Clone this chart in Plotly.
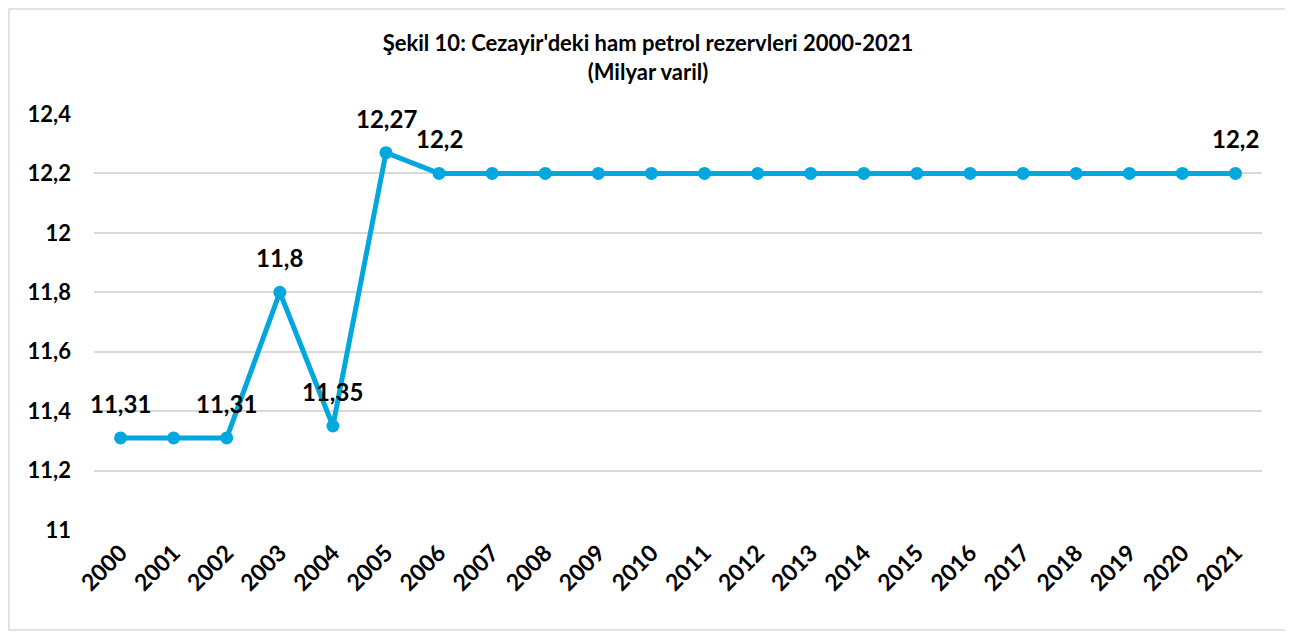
import plotly.graph_objects as go

years = [str(y) for y in range(2000, 2022)]
values = [11.31, 11.31, 11.31, 11.8, 11.35, 12.27] + [12.2] * 16
labels = ["11,31", "", "11,31", "11,8", "11,35", "12,27", "12,2"] + [""] * 14 + ["12,2"]
y_ticks = [11, 11.2, 11.4, 11.6, 11.8, 12, 12.2, 12.4]
y_ticktext = ["11", "11,2", "11,4", "11,6", "11,8", "12", "12,2", "12,4"]

FONT = "Lato"
OFF = 8  # page body margin
W, H = 1293 - OFF, 635 - OFF
L, T = 94 - OFF, 114 - OFF
R = W - (1262 - OFF)
B = H - (530 - OFF)
pw = W - L - R
ph = H - T - B

fig = go.Figure()
fig.add_trace(go.Scatter(
    x=years, y=values, mode="lines+markers",
    line=dict(color="#02A7DE", width=5),
    marker=dict(color="#02A7DE", size=13),
    cliponaxis=False, showlegend=False, hoverinfo="x+y",
))

for i, (yv, lab) in enumerate(zip(values, labels)):
    if lab:
        fig.add_annotation(
            x=i, y=yv, text=lab, showarrow=False,
            yanchor="bottom", yshift=18,
            font=dict(family=FONT, size=24, color="#000000", weight="bold"),
        )

def fx(p):
    return (p - OFF - L) / pw

def fy(p):
    return (H - B - (p - OFF)) / ph

fig.add_shape(type="rect", xref="paper", yref="paper",
              x0=fx(OFF + 1), x1=fx(1289),
              y0=fy(630), y1=fy(OFF + 1),
              line=dict(color="#D9D9D9", width=1.5), layer="below")

fig.update_layout(
    width=W, height=H,
    margin=dict(l=L, r=R, t=T, b=B, autoexpand=False),
    paper_bgcolor="white", plot_bgcolor="white",
    title=dict(
        text="Şekil 10: Cezayir'deki ham petrol rezervleri 2000-2021<br>(Milyar varil)",
        x=(648 - OFF) / W, xref="container", xanchor="center",
        y=1 - (51 - OFF) / H, yref="container", yanchor="top",
        font=dict(family=FONT, size=22, color="#000000", weight="bold"),
    ),
    xaxis=dict(
        type="category", range=[-0.5, 21.5], automargin=False,
        showgrid=False, showline=False, zeroline=False, ticks="",
        tickangle=-45, ticklabelstandoff=4,
        tickfont=dict(family=FONT, size=23, color="#000000", weight="bold"),
    ),
    yaxis=dict(
        range=[11, 12.4], tickvals=y_ticks, ticktext=y_ticktext, automargin=False,
        showgrid=True, gridcolor="#D9D9D9", gridwidth=1.5,
        zeroline=False, showline=False, ticks="",
        ticklabelstandoff=22,
        tickfont=dict(family=FONT, size=22, color="#000000", weight="bold"),
    ),
)
fig.write_html("out.html")
